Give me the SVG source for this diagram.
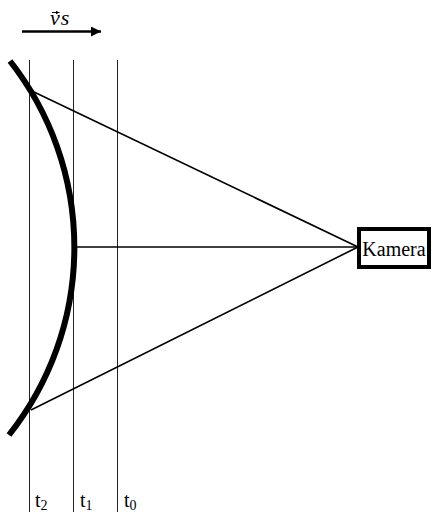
<svg xmlns="http://www.w3.org/2000/svg" width="433" height="512" viewBox="0 0 433 512">
<style>
  .time { stroke: #222; stroke-width: 1; fill: none; }
  .ray { stroke: #000; stroke-width: 1.6; fill: none; }
  .lbl { font-family: "Liberation Serif", "DejaVu Serif", serif; fill: #000; }
</style>
<defs>
  <marker id="ah" viewBox="0 0 10 10" refX="10" refY="5" markerWidth="12" markerHeight="10" markerUnits="userSpaceOnUse" orient="auto">
    <path d="M0,0 L10,5 L0,10 z" fill="#000"/>
  </marker>
  <marker id="ah-small" viewBox="0 0 10 10" refX="10" refY="5" markerWidth="4" markerHeight="4" markerUnits="userSpaceOnUse" orient="auto">
    <path d="M0,0 L10,5 L0,10 z" fill="#000"/>
  </marker>
</defs>
<rect width="433" height="512" fill="#fff"/>
<g id="velocity">
  <line x1="22" y1="31.5" x2="101" y2="31.5" stroke="#000" stroke-width="2.6" marker-end="url(#ah)"/>
  <text class="lbl" x="50" y="25" font-size="22" font-style="italic" letter-spacing="1">vs</text>
  <line x1="52" y1="12.5" x2="59.5" y2="12.5" stroke="#000" stroke-width="1" marker-end="url(#ah-small)"/>
</g>
<g id="time-lines">
  <line class="time" x1="29.5" y1="60" x2="29.5" y2="512"/>
  <line class="time" x1="73.5" y1="60" x2="73.5" y2="512"/>
  <line class="time" x1="117.5" y1="60" x2="117.5" y2="512"/>
  <text class="lbl" x="35" y="507" font-size="20">t<tspan font-size="14" dy="3">2</tspan></text>
  <text class="lbl" x="80" y="507" font-size="20">t<tspan font-size="14" dy="3">1</tspan></text>
  <text class="lbl" x="124" y="507" font-size="20">t<tspan font-size="14" dy="3">0</tspan></text>
</g>
<g id="wavefront">
  <path d="M 10 61 A 302 302 0 0 1 9 435" fill="none" stroke="#000" stroke-width="6"/>
</g>
<g id="connectors">
  <line class="ray" x1="34" y1="92" x2="358" y2="247"/>
  <line class="ray" x1="76" y1="247" x2="358" y2="247"/>
  <line class="ray" x1="31" y1="410" x2="358" y2="247"/>
</g>
<g id="camera">
  <rect x="359" y="229" width="70" height="38" fill="#fff" stroke="#000" stroke-width="4"/>
  <text class="lbl" x="394" y="256" font-size="20" text-anchor="middle">Kamera</text>
</g>
</svg>
